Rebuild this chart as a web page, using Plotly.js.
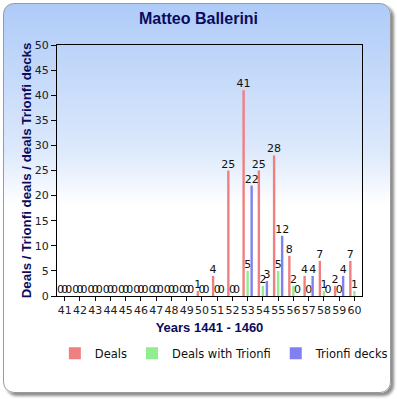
<!DOCTYPE html>
<html>
<head>
<meta charset="utf-8">
<script src="https://cdn.plot.ly/plotly-3.0.1.min.js"></script>
<style>
  html, body { margin: 0; padding: 0; background: #ffffff; }
  #wrap { position: relative; width: 397px; height: 399px; overflow: hidden; }
  #card {
    position: absolute; left: 3px; top: 3px; width: 386px; height: 388px;
    border: 1px solid #9a9a9a; border-radius: 11px;
    background: linear-gradient(to bottom, #aecbf8 0%, #dde9fc 38%, #ffffff 52%, #ffffff 100%);
    box-shadow: 3px 3px 3px #8c8c8c;
  }
  #chart { position: absolute; left: 0; top: 0; width: 397px; height: 399px; }
</style>
</head>
<body>
<div id="wrap">
  <div id="card"></div>
  <div id="chart"></div>
</div>
<script>
const years = ['41','42','43','44','45','46','47','48','49','50','51','52','53','54','55','56','57','58','59','60'];
const deals =        [0,0,0,0,0,0,0,0,0,1,4,25,41,25,28,8,4,7,2,7];
const dealsTrionfi = [0,0,0,0,0,0,0,0,0,0,0,0,5,2,5,2,0,1,0,1];
const trionfiDecks = [0,0,0,0,0,0,0,0,0,0,0,0,22,3,12,0,4,0,4,null];

const seriesNames = ['Deals', 'Deals with Trionfi', 'Trionfi decks'];
const seriesColors = ['#f08080', '#90ee90', '#8080f0'];
const seriesData = [deals, dealsTrionfi, trionfiDecks];

const traces = seriesData.map((vals, i) => ({
  type: 'bar',
  name: seriesNames[i],
  x: years,
  y: vals,
  text: vals.map(v => v === null ? '' : String(v)),
  textposition: 'outside',
  constraintext: 'none',
  cliponaxis: false,
  textfont: { family: 'DejaVu Sans', size: 11, color: '#111111' },
  marker: { color: seriesColors[i], line: { width: 0 } },
  hoverinfo: 'x+y+name'
}));

const navy = '#0b0b5e';
const layout = {
  width: 397, height: 399,
  paper_bgcolor: 'rgba(0,0,0,0)',
  plot_bgcolor: 'rgba(0,0,0,0)',
  margin: { l: 57, r: 35, t: 45, b: 103 },
  barmode: 'group',
  bargap: 0.21,
  bargroupgap: 0.4,
  showlegend: true,
  title: {
    text: '<b>Matteo Ballerini</b>',
    font: { family: 'Liberation Sans', size: 16, color: navy },
    x: 0.5, xanchor: 'center', y: 0.955, yanchor: 'middle'
  },
  xaxis: {
    type: 'category',
    range: [-0.5, 19.5],
    showline: true, linecolor: '#000000', linewidth: 1, mirror: true,
    ticks: 'outside', ticklen: 4, tickcolor: '#000000',
    tickangle: 0,
    tickfont: { family: 'DejaVu Sans', size: 11, color: '#222222' },
    showgrid: false, zeroline: false,
    title: { text: '<b>Years 1441 - 1460</b>', font: { family: 'Liberation Sans', size: 13, color: navy }, standoff: 6 }
  },
  yaxis: {
    range: [0, 50], dtick: 5, tick0: 0,
    showline: true, linecolor: '#000000', linewidth: 1, mirror: true,
    ticks: 'outside', ticklen: 5, tickcolor: '#000000',
    tickfont: { family: 'DejaVu Sans', size: 11, color: '#222222' },
    showgrid: false, zeroline: false,
    title: { text: '<b>Deals / Trionfi deals / deals Trionfi decks</b>', font: { family: 'Liberation Sans', size: 13.3, color: navy }, standoff: 0 }
  },
  legend: {
    orientation: 'h',
    x: -0.007, xanchor: 'left',
    y: -0.17, yanchor: 'top',
    font: { family: 'DejaVu Sans', size: 11.5, color: '#111111' },
    bgcolor: 'rgba(0,0,0,0)',
    itemwidth: 30,
    tracegroupgap: 0
  }
};

Plotly.newPlot('chart', traces, layout, { displayModeBar: false, staticPlot: true });
</script>
</body>
</html>
